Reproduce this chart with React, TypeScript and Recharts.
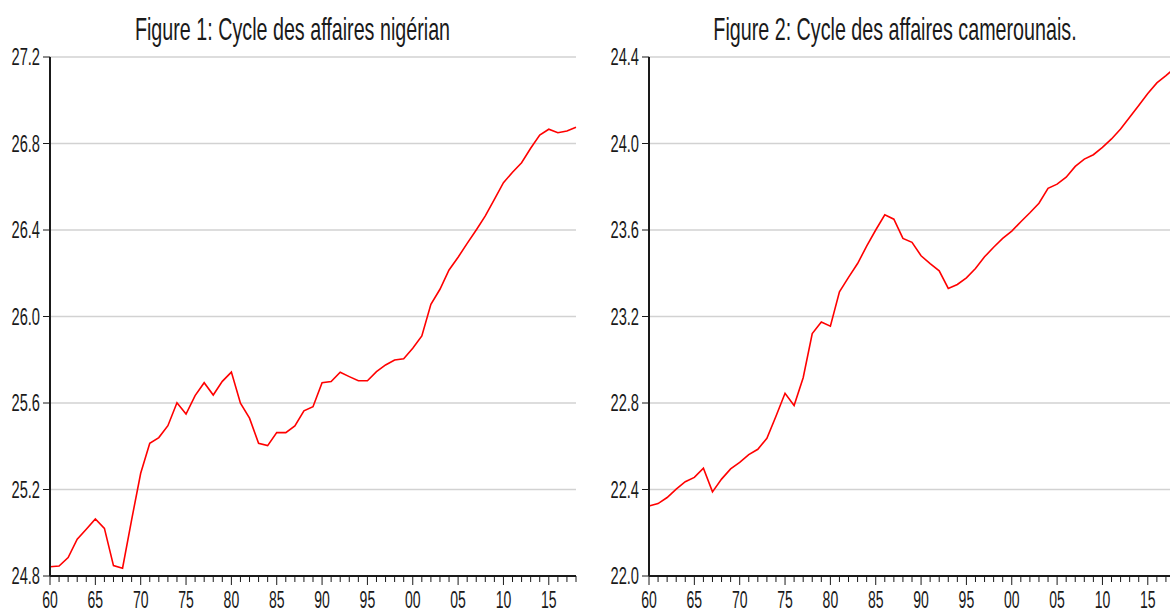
import { LineChart, Line, XAxis, YAxis, CartesianGrid } from 'recharts';

const years = [
  1960, 1961, 1962, 1963, 1964, 1965, 1966, 1967, 1968, 1969,
  1970, 1971, 1972, 1973, 1974, 1975, 1976, 1977, 1978, 1979,
  1980, 1981, 1982, 1983, 1984, 1985, 1986, 1987, 1988, 1989,
  1990, 1991, 1992, 1993, 1994, 1995, 1996, 1997, 1998, 1999,
  2000, 2001, 2002, 2003, 2004, 2005, 2006, 2007, 2008, 2009,
  2010, 2011, 2012, 2013, 2014, 2015, 2016, 2017, 2018,
];

// log real GDP, Nigeria
const nigeria = [
  24.843, 24.846, 24.885, 24.97, 25.016, 25.064, 25.02, 24.848, 24.836, 25.06,
  25.275, 25.414, 25.44, 25.495, 25.601, 25.549, 25.634, 25.694, 25.637, 25.7,
  25.743, 25.599, 25.53, 25.414, 25.403, 25.463, 25.463, 25.494, 25.564, 25.583,
  25.694, 25.699, 25.742, 25.722, 25.703, 25.703, 25.745, 25.776, 25.799, 25.805,
  25.853, 25.91, 26.056, 26.126, 26.215, 26.274, 26.338, 26.4, 26.465, 26.542,
  26.619, 26.667, 26.711, 26.778, 26.839, 26.866, 26.85, 26.858, 26.875,
];

// log real GDP, Cameroon
const cameroon = [
  22.324, 22.335, 22.363, 22.402, 22.436, 22.456, 22.499, 22.389, 22.448, 22.495,
  22.525, 22.561, 22.586, 22.637, 22.739, 22.845, 22.788, 22.917, 23.121, 23.175,
  23.155, 23.314, 23.381, 23.445, 23.525, 23.6, 23.67, 23.65, 23.561, 23.543,
  23.481, 23.445, 23.411, 23.33, 23.348, 23.379, 23.422, 23.476, 23.52, 23.561,
  23.595, 23.638, 23.68, 23.724, 23.793, 23.812, 23.844, 23.894, 23.928, 23.948,
  23.982, 24.021, 24.067, 24.121, 24.176, 24.231, 24.28, 24.314, 24.35,
];

const nigeriaTicks = [24.8, 25.2, 25.6, 26.0, 26.4, 26.8, 27.2];
const cameroonTicks = [22.0, 22.4, 22.8, 23.2, 23.6, 24.0, 24.4];

const titles = [
  'Figure 1: Cycle des affaires nigérian',
  'Figure 2: Cycle des affaires camerounais.',
];

const FONT = '"Liberation Sans", Arial, sans-serif';
const INK = '#1a1a1a';

function XTick(props: any) {
  const { x, y, payload } = props;
  const yr: number = payload.value;
  const major = yr % 5 === 0;
  return (
    <g>
      <line x1={x} x2={x} y1={y} y2={y + (major ? 9 : 6)} stroke={INK} strokeWidth={1} />
      {major && (
        <text
          x={x}
          y={y + 32}
          textAnchor="middle"
          fontSize={24}
          fontFamily={FONT}
          fill={INK}
          textLength={15.6}
          lengthAdjust="spacingAndGlyphs"
        >
          {String(yr % 100).padStart(2, '0')}
        </text>
      )}
    </g>
  );
}

function YTick(props: any) {
  const { x, y, payload } = props;
  return (
    <text
      x={x}
      y={y + 8}
      textAnchor="end"
      fontSize={23}
      fontFamily={FONT}
      fill={INK}
      textLength={28.5}
      lengthAdjust="spacingAndGlyphs"
    >
      {payload.value.toFixed(1)}
    </text>
  );
}

function Title({ cx, text }: { cx: number; text: string }) {
  // narrow title face: Liberation Sans squeezed horizontally
  return (
    <text
      transform={`translate(${cx},40) scale(0.636,1)`}
      textAnchor="middle"
      fontSize={31}
      fontFamily={FONT}
      fill={INK}
    >
      {text}
    </text>
  );
}

function Panel({ values, ticks }: { values: number[]; ticks: number[] }) {
  const data = years.map((year, i) => ({ year, v: values[i] }));
  const domain: [number, number] = [ticks[0], ticks[ticks.length - 1]];
  return (
    <LineChart width={590} height={613} data={data} margin={{ top: 57, right: 14, bottom: 0, left: 0 }}>
      <CartesianGrid horizontal vertical={false} stroke="#d2d2d2" strokeWidth={1.6} />
      <XAxis
        dataKey="year"
        type="number"
        domain={[1960, 2018]}
        ticks={years}
        interval={0}
        height={37}
        tickSize={0}
        tickMargin={0}
        tickLine={false}
        axisLine={{ stroke: INK, strokeWidth: 2 }}
        tick={<XTick />}
      />
      <XAxis
        xAxisId="top"
        orientation="top"
        dataKey="year"
        type="number"
        domain={[1960, 2018]}
        height={0}
        tick={false}
        tickLine={false}
        axisLine={{ stroke: INK, strokeWidth: 2 }}
      />
      <YAxis
        domain={domain}
        ticks={ticks}
        interval={0}
        width={50}
        allowDataOverflow
        tickSize={7}
        tickMargin={3}
        tickLine={{ stroke: INK, strokeWidth: 1 }}
        axisLine={{ stroke: INK, strokeWidth: 2 }}
        tick={<YTick />}
      />
      <YAxis
        yAxisId="right"
        orientation="right"
        domain={domain}
        width={0}
        tick={false}
        tickLine={false}
        axisLine={{ stroke: INK, strokeWidth: 2 }}
      />
      <Line
        type="linear"
        dataKey="v"
        stroke="#ff0000"
        strokeWidth={1.6}
        dot={false}
        activeDot={false}
        isAnimationActive={false}
      />
    </LineChart>
  );
}

export default function App() {
  return (
    <div
      style={{
        position: 'fixed',
        left: 0,
        top: 0,
        width: 1170,
        height: 613,
        overflow: 'hidden',
        background: '#ffffff',
      }}
    >
      <div style={{ position: 'absolute', left: 0, top: 0 }}>
        <Panel values={nigeria} ticks={nigeriaTicks} />
      </div>
      <div style={{ position: 'absolute', left: 599, top: 0 }}>
        <Panel values={cameroon} ticks={cameroonTicks} />
      </div>
      <svg width={1170} height={50} style={{ position: 'absolute', left: 0, top: 0 }}>
        <Title cx={292.5} text={titles[0]} />
        <Title cx={895} text={titles[1]} />
      </svg>
    </div>
  );
}
